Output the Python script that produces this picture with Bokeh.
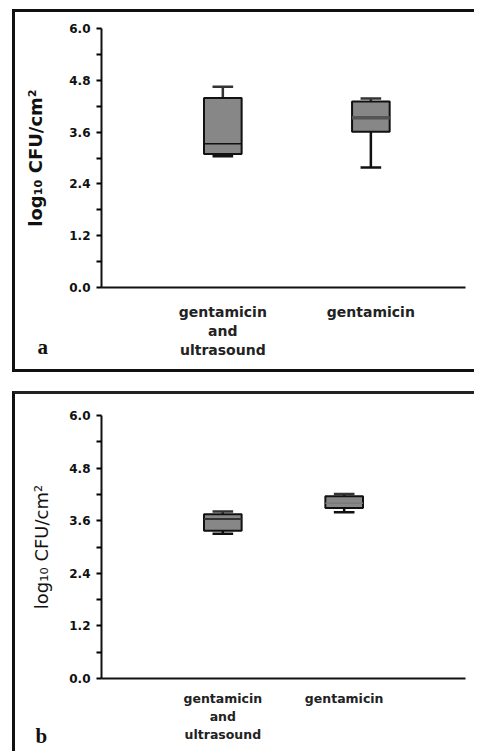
from bokeh.plotting import figure
from bokeh.models import FixedTicker, PrintfTickFormatter, ColumnDataSource, Title
from bokeh.layouts import column
from bokeh.embed import file_html
from bokeh.resources import INLINE

# ---------------- data ----------------
groups = ["gentamicin\nand\nultrasound", "gentamicin"]
y_ticks = [0.0, 1.2, 2.4, 3.6, 4.8, 6.0]
y_minor = [0.6, 1.8, 3.0, 4.2, 5.4]
y_label = "log\u2081\u2080 CFU/cm\u00b2"

a_lower = [3.04, 2.78]
a_q1 = [3.09, 3.61]
a_median = [3.33, 3.93]
a_q3 = [4.39, 4.31]
a_upper = [4.65, 4.38]

b_lower = [3.30, 3.79]
b_q1 = [3.37, 3.89]
b_median = [3.64, 4.00]
b_q3 = [3.75, 4.16]
b_upper = [3.81, 4.21]


def make_panel(letter, xpos, lower, q1, med, q3, upper, height, mb, styles,
               cat_size, cat_standoff, lab_weight, lab_standoff,
               median_colors, median_widths, letter_offset, letter_standoff):
    p = figure(width=462, height=height, x_range=(0, 3), y_range=(0, 6),
               output_backend="svg", toolbar_location=None,
               min_border_left=mb[0], min_border_right=mb[1],
               min_border_top=mb[2], min_border_bottom=mb[3])
    p.styles = styles
    p.grid.visible = False
    p.outline_line_color = None
    p.background_fill_color = "white"
    p.border_fill_color = "white"

    hw = 0.155
    cw = 0.085
    src = ColumnDataSource(dict(
        x=xpos, lower=lower, q1=q1, med=med, q3=q3, upper=upper,
        x0=[v - hw for v in xpos], x1=[v + hw for v in xpos],
        c0=[v - cw for v in xpos], c1=[v + cw for v in xpos],
        mcol=median_colors, mw=median_widths,
    ))
    p.segment(x0="x", y0="q3", x1="x", y1="upper", source=src,
              line_color="#333333", line_width=2.5)
    p.segment(x0="x", y0="lower", x1="x", y1="q1", source=src,
              line_color="#111111", line_width=2.5)
    p.segment(x0="c0", y0="upper", x1="c1", y1="upper", source=src,
              line_color="#333333", line_width=2.5)
    p.segment(x0="c0", y0="lower", x1="c1", y1="lower", source=src,
              line_color="#111111", line_width=2.5)
    p.vbar(x="x", width=0.31, bottom="q1", top="q3", source=src,
           fill_color="#878787", line_color="#111111", line_width=2)
    p.segment(x0="x0", y0="med", x1="x1", y1="med", source=src,
              line_color="mcol", line_width="mw")

    p.yaxis.ticker = FixedTicker(ticks=y_ticks, minor_ticks=y_minor)
    p.yaxis.formatter = PrintfTickFormatter(format="%.1f")
    p.yaxis.axis_label = y_label
    p.yaxis.axis_label_text_font = "DejaVu Sans"
    p.yaxis.axis_label_text_font_style = lab_weight
    p.yaxis.axis_label_text_font_size = "18px"
    p.yaxis.axis_label_text_color = "#111111"
    p.yaxis.axis_label_standoff = lab_standoff
    p.yaxis.major_label_text_font = "DejaVu Sans"
    p.yaxis.major_label_text_font_style = "bold"
    p.yaxis.major_label_text_font_size = "12px"
    p.yaxis.major_label_text_color = "#111111"
    p.yaxis.major_label_standoff = 6
    p.yaxis.major_tick_in = 0
    p.yaxis.major_tick_out = 5
    p.yaxis.minor_tick_in = 0
    p.yaxis.minor_tick_out = 5
    p.yaxis.major_tick_line_width = 2
    p.yaxis.minor_tick_line_width = 2
    p.yaxis.axis_line_width = 2
    p.yaxis.axis_line_color = "#111111"

    p.xaxis.ticker = FixedTicker(ticks=xpos, minor_ticks=[])
    p.xaxis.major_label_overrides = {xpos[i]: groups[i] for i in range(len(groups))}
    p.xaxis.major_tick_line_color = None
    p.xaxis.minor_tick_line_color = None
    p.xaxis.axis_line_width = 2
    p.xaxis.axis_line_color = "#111111"
    p.xaxis.major_label_text_font = "DejaVu Sans"
    p.xaxis.major_label_text_font_style = "bold"
    p.xaxis.major_label_text_font_size = cat_size
    p.xaxis.major_label_text_color = "#222222"
    p.xaxis.major_label_standoff = cat_standoff

    p.add_layout(Title(text=letter, align="left", vertical_align="top",
                       offset=letter_offset, standoff=letter_standoff,
                       text_font="Liberation Serif", text_font_style="bold",
                       text_font_size="21px", text_color="#111111"), "below")
    return p


pa = make_panel("a", [1.0, 2.22], a_lower, a_q1, a_median, a_q3, a_upper,
                height=363, mb=(84, 7, 16, 88),
                styles={"margin-left": "12px", "margin-top": "9px",
                        "border-left": "3px solid #111111",
                        "border-top": "3px solid #111111",
                        "border-bottom": "3px solid #111111"},
                cat_size="14px", cat_standoff=10, lab_weight="bold", lab_standoff=20,
                median_colors=["#111111", "#555555"], median_widths=[1.5, 3.5],
                letter_offset=-64, letter_standoff=-51)

pb = make_panel("b", [1.0, 2.0], b_lower, b_q1, b_median, b_q3, b_upper,
                height=360, mb=(86, 12, 21, 76),
                styles={"margin-left": "12px", "margin-top": "19px",
                        "border-left": "3px solid #111111",
                        "border-top": "3px solid #222222"},
                cat_size="12.5px", cat_standoff=6, lab_weight="normal", lab_standoff=14,
                median_colors=["#333333", "#7a7a7a"], median_widths=[2, 1.5],
                letter_offset=-66, letter_standoff=-42)

layout = column(pa, pb)
open("out.html", "w").write(file_html(layout, INLINE))
